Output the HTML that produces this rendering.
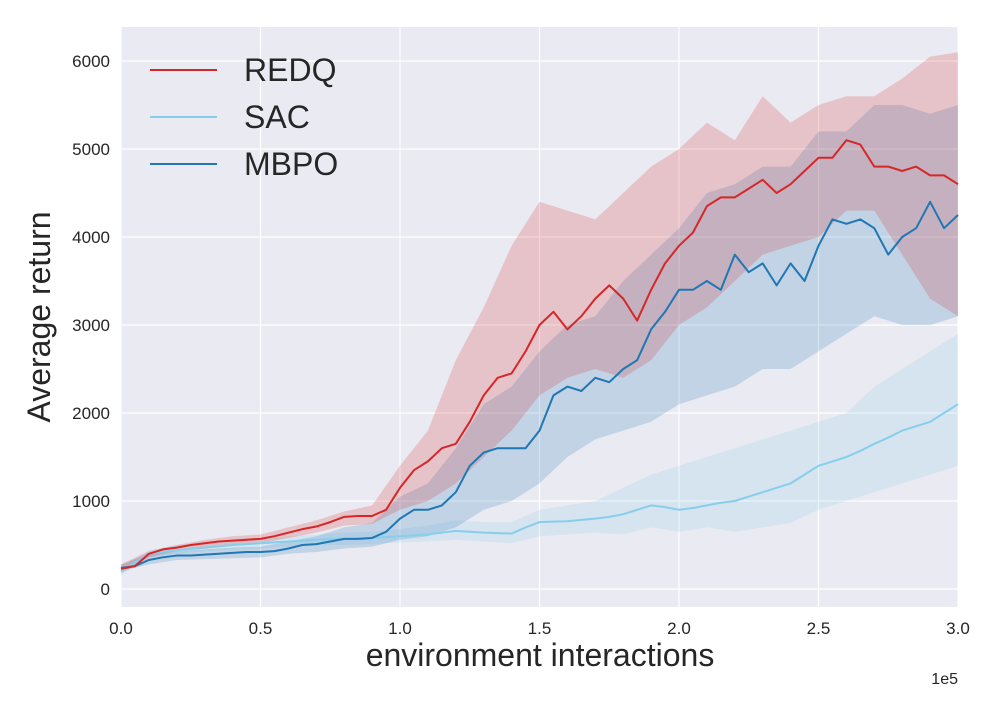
<!DOCTYPE html>
<html><head><meta charset="utf-8"><style>
body{margin:0;background:#fff;}
svg text{font-family:"Liberation Sans",sans-serif;fill:#262626;}
</style></head><body>
<svg id="chart" width="1000" height="700">
<rect x="121" y="27" width="837" height="580" fill="#eaeaf2"/>
<g id="grid"></g><g id="bands"></g><g id="lines"></g><g id="ticks"></g>
<text x="50" y="317" font-size="32" text-anchor="middle" transform="rotate(-90 50 317)">Average return</text>
<text x="540" y="666" font-size="32" text-anchor="middle">environment interactions</text>
<text x="958" y="684" font-size="16" text-anchor="end">1e5</text>
<g>
<line x1="150" y1="70" x2="217" y2="70" stroke="#d62728" stroke-width="2"/>
<text x="244" y="81" font-size="32">REDQ</text>
<line x1="150" y1="117" x2="217" y2="117" stroke="#87ceeb" stroke-width="2"/>
<text x="244" y="128" font-size="32">SAC</text>
<line x1="150" y1="164" x2="217" y2="164" stroke="#1f77b4" stroke-width="2"/>
<text x="244" y="175" font-size="32">MBPO</text>
</g>
</svg>
<script>
const xTicks=[0,0.5,1.0,1.5,2.0,2.5,3.0];
const xTickLabels=["0.0","0.5","1.0","1.5","2.0","2.5","3.0"];
const yTicks=[0,1000,2000,3000,4000,5000,6000];
const redqMean=[230,260,400,450,470,500,520,540,550,560,570,600,640,680,710,760,820,830,830,900,1150,1350,1450,1600,1650,1900,2200,2400,2450,2700,3000,3150,2950,3100,3300,3450,3300,3050,3400,3700,3900,4050,4350,4450,4450,4550,4650,4500,4600,4750,4900,4900,5100,5050,4800,4800,4750,4800,4700,4700,4600];
const mbpoMean=[240,260,330,360,380,380,390,400,410,420,420,430,460,500,510,540,570,570,580,650,800,900,900,950,1100,1400,1550,1600,1600,1600,1800,2200,2300,2250,2400,2350,2500,2600,2950,3150,3400,3400,3500,3400,3800,3600,3700,3450,3700,3500,3900,4200,4150,4200,4100,3800,4000,4100,4400,4100,4250];
const sacMean=[200,300,400,420,440,455,470,485,500,510,520,530,540,550,560,565,570,575,580,590,600,610,620,640,660,650,640,635,630,700,760,765,770,785,800,820,850,900,950,930,900,920,950,980,1000,1050,1100,1150,1200,1300,1400,1450,1500,1570,1650,1720,1800,1850,1900,2000,2100];
const redqUpper=[280,430,500,560,600,620,700,780,880,950,1400,1800,2600,3200,3900,4400,4300,4200,4500,4800,5000,5300,5100,5600,5300,5500,5600,5600,5800,6050,6100];
const redqLower=[180,360,430,480,500,520,580,640,720,740,900,1000,1200,1500,1800,2200,2400,2500,2400,2600,3000,3200,3500,3800,3900,4000,4300,4300,3800,3300,3100];
const mbpoUpper=[280,400,430,450,470,480,540,600,700,750,1050,1200,1600,2100,2300,2700,3000,3100,3500,3800,4100,4500,4600,4800,4800,5200,5200,5500,5500,5400,5500];
const mbpoLower=[200,280,330,340,350,360,400,420,460,480,560,600,700,900,1000,1200,1500,1700,1800,1900,2100,2200,2300,2500,2500,2700,2900,3100,3000,3000,3100];
const sacUpper=[250,440,500,520,550,580,600,620,640,650,680,720,780,760,760,900,950,1000,1150,1300,1400,1500,1600,1700,1800,1900,2000,2300,2500,2700,2900];
const sacLower=[150,360,400,430,450,460,480,500,500,510,530,540,560,540,520,600,620,640,620,700,650,700,650,700,750,900,1000,1100,1200,1300,1400];
const NS='http://www.w3.org/2000/svg';
const xs=v=>121+v/3*837;
const ys=v=>589-v*0.088;
function mk(t,p,a){const e=document.createElementNS(NS,t);for(const k in a)e.setAttribute(k,a[k]);p.appendChild(e);return e;}
const grid=document.getElementById('grid'),ticks=document.getElementById('ticks');
xTicks.forEach((v,i)=>{
 const l=mk('line',grid,{x1:xs(v),x2:xs(v),y1:27,y2:607,stroke:'#fff','stroke-width':1.2});
 
 
 const t=mk('text',ticks,{x:xs(v),y:634,'font-size':17,'text-anchor':'middle'});t.textContent=xTickLabels[i];
 
 
});
yTicks.forEach(v=>{
 const l=mk('line',grid,{x1:121,x2:958,y1:ys(v),y2:ys(v),stroke:'#fff','stroke-width':1.2});
 
 
 const t=mk('text',ticks,{x:110,y:ys(v)+6,'font-size':17,'text-anchor':'end'});t.textContent=v;
 
 
});
function xv(i,n){return i*3/(n-1);}
function band(up,lo,c,name){
 let d='M'+up.map((v,i)=>xs(xv(i,up.length))+','+ys(v)).join('L');
 d+='L'+lo.map((v,i)=>xs(xv(i,lo.length))+','+ys(v)).reverse().join('L')+'Z';
 const p=mk('path',document.getElementById('bands'),{d:d,fill:c,'fill-opacity':0.2});
 
 
}
function line(m,c,name){
 const d='M'+m.map((v,i)=>xs(xv(i,m.length))+','+ys(v)).join('L');
 const p=mk('path',document.getElementById('lines'),{d:d,fill:'none',stroke:c,'stroke-width':2,'stroke-linejoin':'round'});
 
 
}
band(sacUpper,sacLower,'#87ceeb','sac-band');
band(mbpoUpper,mbpoLower,'#1f77b4','mbpo-band');
band(redqUpper,redqLower,'#d62728','redq-band');
line(sacMean,'#87ceeb','sac-line');
line(mbpoMean,'#1f77b4','mbpo-line');
line(redqMean,'#d62728','redq-line');
</script>
</body></html>
